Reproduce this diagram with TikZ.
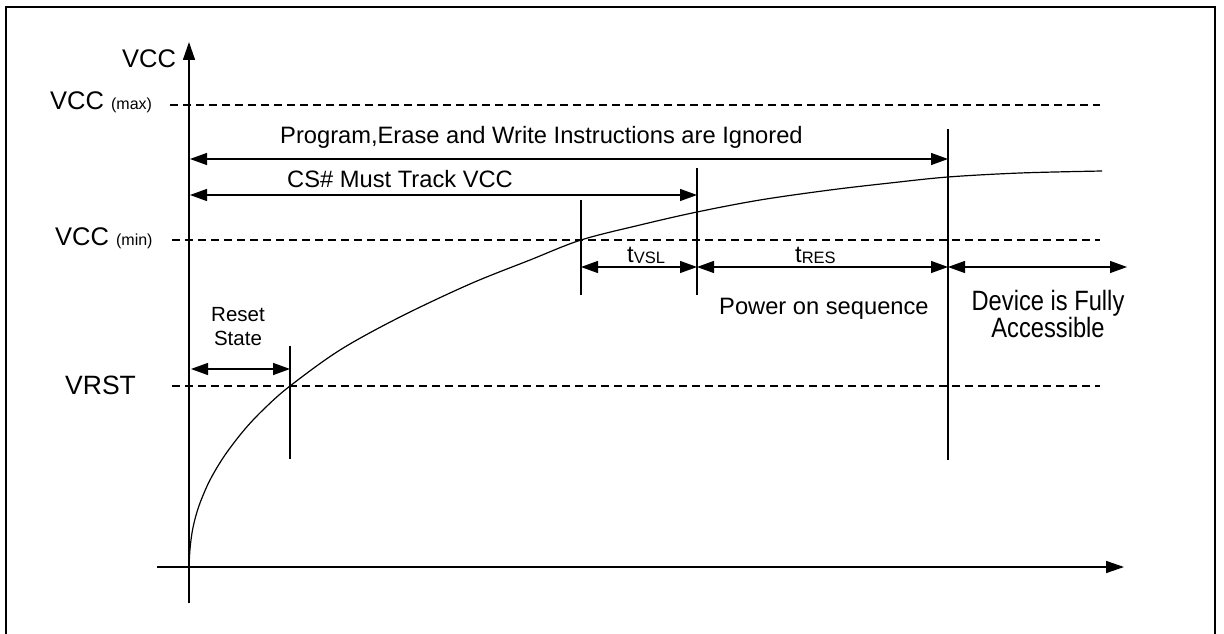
\documentclass[tikz,border=0pt]{standalone}
\usepackage{fontspec}
\setmainfont{Liberation Sans}
\usetikzlibrary{arrows.meta}
\begin{document}
\begin{tikzpicture}[x=1pt,y=-1pt,
  axisline/.style={line width=1.5pt,-{Triangle[length=18pt,width=12pt]}},
  dimarrow/.style={line width=1.3pt,{Triangle[length=17pt,width=12pt]}-{Triangle[length=17pt,width=12pt]}},
  guide/.style={line width=1.2pt},
  dashline/.style={dash pattern=on 8pt off 5pt, line width=1.2pt},
  lab/.style={inner sep=0pt, font=\fontsize{25.5}{30}\selectfont},
  txt/.style={inner sep=0pt, font=\fontsize{23.7}{26}\selectfont},
  small/.style={inner sep=0pt, font=\fontsize{20.5}{24.5}\selectfont},
]
\useasboundingbox (0,0) rectangle (1224,634);
\clip (0,0) rectangle (1224,634);
\draw[line width=2.3pt, line join=miter] (6,660) -- (6,7) -- (1215,7) -- (1215,660);

% axes
\coordinate (O) at (189,567);
\coordinate (xs) at (157,567);
\coordinate (xe) at (1124,567);
\coordinate (ys) at (189,603);
\coordinate (ye) at (189,42);
\draw[line width=1.5pt] (xs) -- (O);
\draw[axisline] (O) -- (xe);
\draw[line width=1.5pt] (ys) -- (O);
\draw[axisline] (O) -- (ye);

% dashed levels
\coordinate (maxL) at (170,105); \coordinate (maxR) at (1100,105);
\coordinate (minL) at (172,240); \coordinate (minR) at (1100,240);
\coordinate (rstL) at (172,386); \coordinate (rstR) at (1100,386);
\draw[dashline] (maxL) -- (maxR);
\draw[dashline] (minL) -- (minR);
\draw[dashline] (rstL) -- (rstR);

% labels
\node[lab, anchor=base west] (vcc) at (122,67) {VCC};
\node[lab, anchor=base west] (vccmax) at (50,110) {VCC {\fontsize{16}{18}\selectfont(max)}};
\node[lab, anchor=base west] (vccmin) at (55,245) {VCC {\fontsize{16}{18}\selectfont(min)}};
\node[lab, anchor=base west, font=\fontsize{26.5}{30}\selectfont] (vrst) at (65,394) {VRST};

% curve
\draw[line width=1.2pt] plot[smooth, tension=0.55] coordinates {
 (189,567) (190,549) (192,533) (195,519) (200,503) (210,480) (225,455)
 (245,429) (265,408) (290,386) (340,350) (400,317) (470,284) (530,260)
 (581,240) (640,225) (697,212) (760,200) (830,190) (890,183) (948,177)
 (1020,173) (1102,171)};

% vertical markers
\coordinate (v1t) at (290,346); \coordinate (v1b) at (290,459);
\coordinate (v2t) at (581,200); \coordinate (v2b) at (581,295);
\coordinate (v3t) at (697,168); \coordinate (v3b) at (697,295);
\coordinate (v4t) at (948,129); \coordinate (v4b) at (948,460);
\draw[guide] (v1t) -- (v1b);
\draw[guide] (v2t) -- (v2b);
\draw[guide] (v3t) -- (v3b);
\draw[guide] (v4t) -- (v4b);

% dimension arrows
\coordinate (pA) at (190,159); \coordinate (pB) at (948,159);
\coordinate (cA) at (190,195); \coordinate (cB) at (697,195);
\coordinate (rA) at (191,369); \coordinate (rB) at (290,369);
\coordinate (t1) at (581,267); \coordinate (t2) at (697,267);
\coordinate (t3) at (948,267); \coordinate (t4) at (1127,267);
\draw[dimarrow] (pA) -- (pB);
\draw[dimarrow] (cA) -- (cB);
\draw[dimarrow] (rA) -- (rB);
\draw[dimarrow] (t1) -- (t2);
\draw[dimarrow] (t2) -- (t3);
\draw[dimarrow] (t3) -- (t4);

% texts
\node[txt, anchor=base west] (prog) at (280,143) {Program,Erase and Write Instructions are Ignored};
\node[txt, anchor=base west] (cs) at (287,187) {CS\# Must Track VCC};
\node[small, anchor=north, align=center] (reset) at (238,307) {Reset\\State};
\node[txt, anchor=base west] (tvsl) at (627,262) {t{\fontsize{16.5}{18}\selectfont\raisebox{-1.5pt}{VSL}}};
\node[txt, anchor=base west] (tres) at (795,262) {t{\fontsize{16.5}{18}\selectfont\raisebox{-1.5pt}{RES}}};
\node[txt, anchor=base west] (pos) at (719,314) {Power on sequence};
\node[inner sep=0pt, anchor=base] (dev) at (1048,310) {\fontsize{23.7}{21.7}\selectfont\scalebox{1}[1.18]{\def\arraystretch{1}\begin{tabular}[t]{@{}c@{}}Device is Fully\\Accessible\end{tabular}}};
\end{tikzpicture}
\end{document}
